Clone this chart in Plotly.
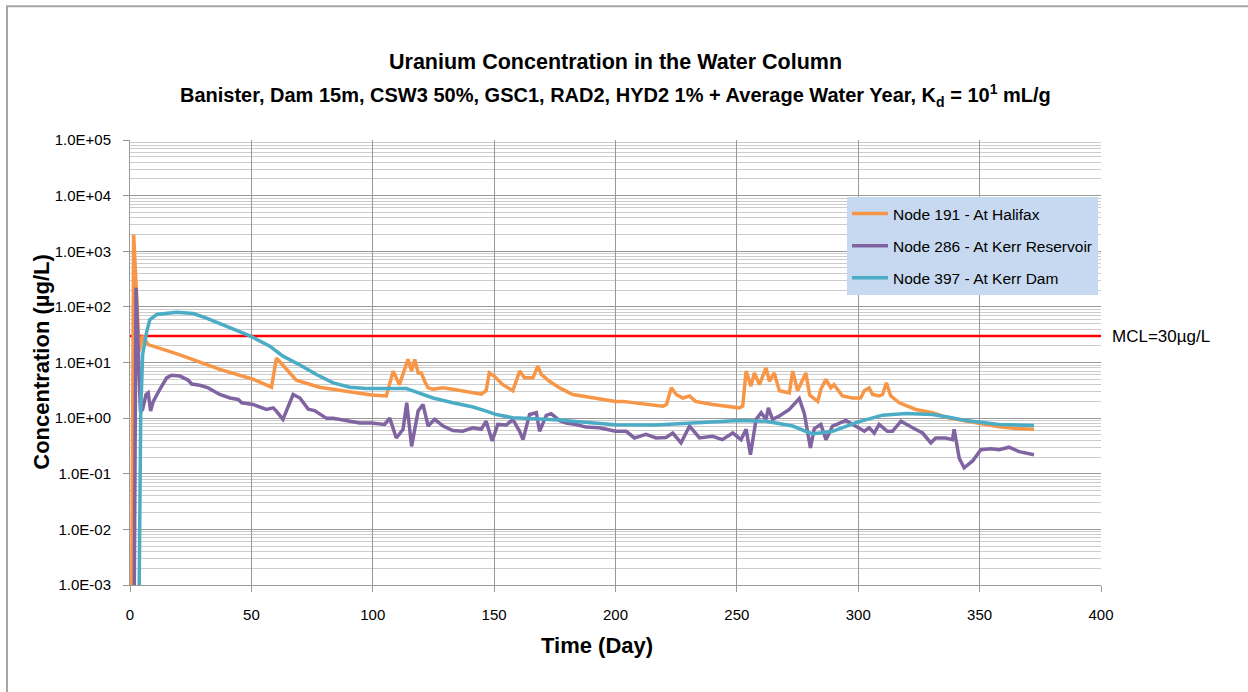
import plotly.graph_objects as go

# ---------------- data ----------------
halifax_day = [0.5, 1.5, 3.8, 5.2, 7.5, 20, 37, 50.7, 58.3, 60.3, 62, 68.5, 78, 90, 99.5, 105.6,
               108.4, 111, 114.5, 116, 117.3, 118.7, 120, 121.4, 122.8, 124.8, 128.9, 133, 137, 141,
               144.7, 146.7, 148, 150, 153.6, 157.7, 160.5, 162.5, 166, 168, 169.4, 172.8, 177, 182.4,
               200, 203, 219.5, 221, 223, 225, 227.7, 230.5, 233, 240, 251, 252.4, 253.8, 255.8,
               257.2, 259.3, 262, 263.4, 265.4, 267.5, 271.6, 273, 275, 278.4, 280, 283.3, 284.6,
               286.7, 288.7, 290, 293.5, 297.6, 301, 302.5, 304.5, 305.9, 308.6, 310, 311.6, 313.4,
               316.9, 323.7, 330.6, 337.4, 344.3, 351.2, 358, 365, 372.4]
halifax_val = [1e-5, 2000, 16, 30, 21, 14, 7.5, 5.0, 3.6, 12, 10, 4.8, 3.6, 3.0, 2.6, 2.5,
               7.0, 4.0, 11.4, 7.0, 11.4, 6.5, 6.5, 4.6, 3.5, 3.3, 3.5, 3.3, 3.1, 2.85,
               2.7, 3.1, 6.5, 5.7, 4.0, 3.1, 7.0, 5.3, 5.3, 8.6, 6.1, 4.6, 3.5, 2.66,
               2.0, 2.0, 1.64, 1.76, 3.5, 2.66, 2.3, 2.5, 2.0, 1.76, 1.53, 1.64, 7.0, 3.76,
               6.5, 4.0, 8.0, 4.6, 6.5, 3.1, 2.85, 7.0, 3.1, 6.5, 2.6, 2.0, 3.3,
               5.0, 3.5, 4.0, 2.5, 2.3, 2.3, 3.1, 3.5, 2.66, 2.5, 2.66, 4.3, 2.5,
               1.89, 1.43, 1.25, 1.0, 0.88, 0.77, 0.70, 0.65, 0.63]

kerr_res_day = [1.5, 2.5, 4.3, 5.2, 6.6, 7.5, 8.5, 9.6, 12.3, 15.1, 17.1, 20.6, 24, 25.4, 28.8,
                32.2, 37, 41.2, 44.6, 46, 50.7, 56.2, 59, 60.3, 63, 67.2, 70, 73.4, 76, 81,
                83.7, 90.5, 94.6, 99.5, 104.9, 107, 109.7, 112.5, 114, 116, 118.7, 120.7, 122.8,
                125.5, 129, 133, 137, 141.3, 144.7, 146.7, 149.2, 151.5, 155, 157.7, 160.5, 161.9,
                164.6, 167.4, 168.7, 171.5, 173.5, 177, 179.7, 183.8, 187.9, 193.4, 200, 204.4,
                207.8, 209.9, 212.6, 216.7, 220.8, 223.6, 227, 230.5, 234.6, 240, 244, 248.3,
                251.7, 253.8, 255.6, 257.9, 260, 262, 263, 264.7, 267.5, 271.6, 275.7, 277.8,
                280.3, 281.9, 284.6, 286.7, 289.4, 294.9, 299.7, 302.5, 304.5, 306.6, 308.6, 312,
                314.1, 317.6, 322.4, 326.5, 329.9, 331.9, 336, 338.8, 339.5, 341.6, 343.6, 347.1,
                350.5, 354.6, 358, 362.1, 366.3, 369, 372.4]
kerr_res_val = [1e-5, 220, 1.3, 1.43, 2.66, 2.85, 1.34, 2.0, 3.3, 5.3, 5.9, 5.7, 4.8, 4.1, 3.9,
                3.5, 2.66, 2.3, 2.17, 1.89, 1.76, 1.43, 1.53, 1.34, 0.95, 2.66, 2.3, 1.45, 1.37, 0.99,
                0.99, 0.88, 0.82, 0.82, 0.77, 1.0, 0.44, 0.63, 1.89, 0.31, 1.34, 1.76, 0.72,
                0.95, 0.72, 0.60, 0.58, 0.67, 0.63, 0.88, 0.39, 0.77, 0.75, 0.95, 0.58, 0.41,
                1.16, 1.25, 0.58, 1.12, 1.2, 0.9, 0.82, 0.77, 0.69, 0.67, 0.58, 0.58,
                0.44, 0.47, 0.51, 0.44, 0.45, 0.54, 0.36, 0.72, 0.44, 0.47, 0.41, 0.54,
                0.41, 0.63, 0.22, 0.95, 1.25, 0.95, 1.53, 0.95, 1.09, 1.43, 2.25, 1.2,
                0.29, 0.65, 0.77, 0.41, 0.72, 0.91, 0.67, 0.58, 0.67, 0.54, 0.77, 0.58,
                0.58, 0.88, 0.67, 0.54, 0.36, 0.44, 0.44, 0.41, 0.63, 0.19, 0.128, 0.17,
                0.27, 0.28, 0.27, 0.30, 0.25, 0.24, 0.22]

kerr_dam_day = [3.4, 4.4, 5.2, 6.9, 8.2, 11, 19.2, 26, 31.5, 39.8, 49.4, 57.6, 63, 70, 76.8, 83.7,
                90.5, 97.4, 113.8, 116.6, 124.8, 133, 141.3, 146.8, 150.9, 157.7, 166, 177, 182.4,
                200, 216.5, 230.5, 251, 262, 273, 281, 289.4, 299.7, 310, 319.6, 330.6, 337.4,
                344.3, 358, 372.4]
kerr_dam_val = [1e-5, 1.16, 14, 36, 59, 73, 80, 76, 63, 45, 30, 19.7, 13, 9.0, 6.1, 4.3,
                3.6, 3.4, 3.4, 3.1, 2.3, 1.89, 1.58, 1.34, 1.16, 1.02, 0.99, 0.93, 0.88,
                0.76, 0.75, 0.82, 0.91, 0.88, 0.72, 0.52, 0.58, 0.85, 1.13, 1.21, 1.16, 1.04,
                0.91, 0.77, 0.74]

mcl_value = 30
x_range = [0, 400]

series_names = ["Node 191 - At Halifax", "Node 286 - At Kerr Reservoir", "Node 397 - At Kerr Dam"]
series_colors = ["#f79646", "#8064a2", "#4bacc6"]

y_tickvals = [1e-3, 1e-2, 1e-1, 1e0, 1e1, 1e2, 1e3, 1e4, 1e5]
y_ticktext = ["1.0E-03", "1.0E-02", "1.0E-01", "1.0E+00", "1.0E+01",
              "1.0E+02", "1.0E+03", "1.0E+04", "1.0E+05"]

title_line1 = "Uranium Concentration in the Water Column"
title_line2 = ("Banister, Dam 15m, CSW3 50%, GSC1, RAD2, HYD2 1% + Average Water Year, "
               "K<sub>d</sub> = 10<sup>1</sup> mL/g")

# ---------------- figure ----------------
FONT = "Liberation Sans, Arial, sans-serif"
fig = go.Figure()

fig.add_trace(go.Scatter(x=x_range, y=[mcl_value, mcl_value], mode="lines",
                         line=dict(color="#ff0000", width=2.5), showlegend=False,
                         hoverinfo="skip"))

for i, (xd, yd) in enumerate([(halifax_day, halifax_val),
                              (kerr_res_day, kerr_res_val),
                              (kerr_dam_day, kerr_dam_val)]):
    fig.add_trace(go.Scatter(x=xd, y=yd, mode="lines", name=series_names[i],
                             legendgroup=f"g{i}",
                             line=dict(color=series_colors[i], width=3.5)))

# plot area in pixels: x 130..1101, y 140..585.5
L, R, T, B = 130, 1101, 140, 585.5
W, H = 1248, 692
pw, ph = R - L, B - T

def px_x(p):
    return (p - L) / pw

def px_y(p):
    return (B - p) / ph

fig.update_layout(
    width=W, height=H,
    margin=dict(l=L, r=W - R, t=T, b=H - B, pad=0),
    paper_bgcolor="white", plot_bgcolor="white",
    font=dict(family=FONT, size=15, color="#000000"),
    showlegend=True,
    legend=dict(x=px_x(847), y=px_y(197), xanchor="left", yanchor="top",
                bgcolor="#c6d9f1", borderwidth=0, font=dict(size=15.5, family=FONT),
                tracegroupgap=9, itemwidth=36),
    xaxis=dict(range=x_range, dtick=50, tick0=0, showgrid=True, gridcolor="#999999",
               gridwidth=1, showline=True, linecolor="#999999", linewidth=1,
               ticks="outside", ticklen=6, tickcolor="#999999", zeroline=False,
               tickfont=dict(size=15), ticklabelstandoff=10),
    yaxis=dict(type="log", range=[-3, 5], tickmode="array", tickvals=y_tickvals,
               ticktext=y_ticktext, showgrid=True, gridcolor="#999999", gridwidth=1,
               showline=True, linecolor="#999999", linewidth=1, ticks="outside",
               ticklen=6, tickcolor="#999999", zeroline=False, tickfont=dict(size=15),
               ticklabelstandoff=9,
               minor=dict(dtick="D1", showgrid=True, gridcolor="#cccccc", gridwidth=1,
                          ticks="")),
)

annotations = [
    dict(text="<b>" + title_line1 + "</b>", x=0.5, y=px_y(62), xref="paper", yref="paper",
         showarrow=False, font=dict(size=21.5, family=FONT), xanchor="center", yanchor="middle"),
    dict(text="<b>" + title_line2 + "</b>", x=0.5, y=px_y(95), xref="paper", yref="paper",
         showarrow=False, font=dict(size=20, family=FONT), xanchor="center", yanchor="middle"),
    dict(text="<b>Time (Day)</b>", x=px_x(597), y=px_y(646), xref="paper", yref="paper",
         showarrow=False, font=dict(size=22, family=FONT), xanchor="center", yanchor="middle"),
    dict(text="<b>Concentration (µg/L)</b>", x=px_x(42), y=px_y(362), xref="paper",
         yref="paper", showarrow=False, textangle=-90, font=dict(size=22, family=FONT),
         xanchor="center", yanchor="middle"),
    dict(text="MCL=30µg/L", x=px_x(1110), y=px_y(337), xref="paper", yref="paper",
         showarrow=False, font=dict(size=17, family=FONT), xanchor="left", yanchor="middle"),
]
fig.update_layout(annotations=annotations)

fig.add_shape(type="rect", xref="paper", yref="paper",
              x0=px_x(7), y0=px_y(720), x1=px_x(1270), y1=px_y(6),
              line=dict(color="#a6a6a6", width=2), fillcolor="rgba(0,0,0,0)", layer="below")

fig.write_html("out.html", config={"displayModeBar": False},
               post_script="document.body.style.margin='0';document.body.style.padding='0';")
